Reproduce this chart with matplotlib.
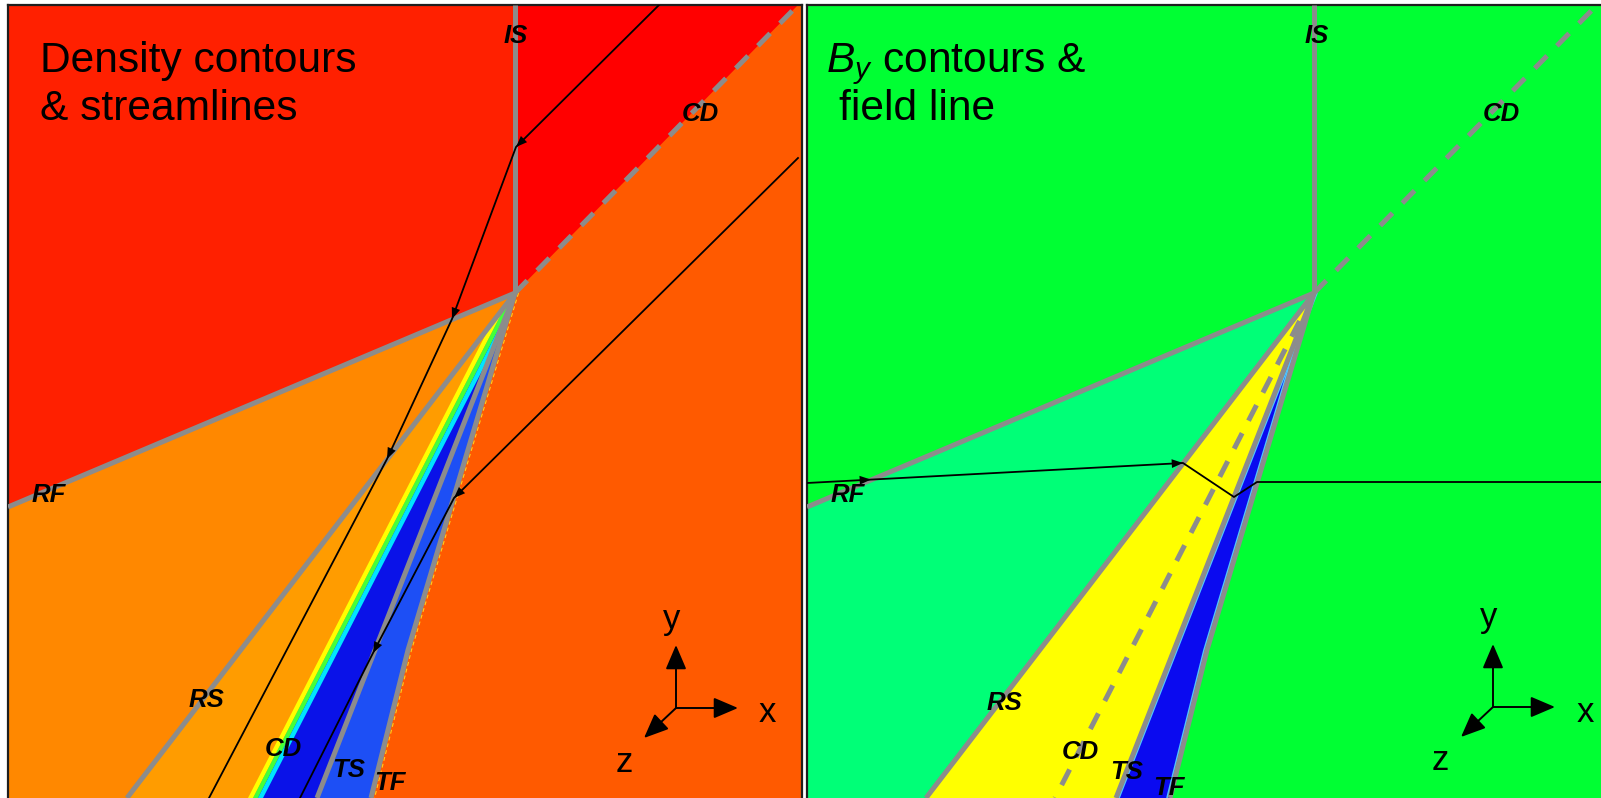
import matplotlib
matplotlib.use("Agg")
import matplotlib.pyplot as plt
from matplotlib.patches import Polygon, FancyArrowPatch

plt.rcParams['font.family'] = ['Liberation Sans', 'DejaVu Sans']
plt.rcParams['mathtext.fontset'] = 'custom'
plt.rcParams['mathtext.rm'] = 'Liberation Sans'
plt.rcParams['mathtext.it'] = 'Liberation Sans:italic'

# ---- panel frame (pixel-like units, x to the right, y downwards) ----
PANEL_W, PANEL_H = 794, 793

# ---- wave fronts: all leave the triple point ----
apex = (507, 288)
is_end = (507, 0)
cd_up_end = (790, 0)
rf_end = (0, 502)
rs_end = (119, 793)
cd_end = (248, 793)
ts_end = (309, 793)
tf_path = [(507, 288), (400, 645), (363, 793)]

# smeared contact layer in the density plot (x offsets from the CD line)
cd_band_offsets = [-8, -3, 2, 7]
cd_band_colors = ['#ffff00', '#44ff3a', '#00e4ff']

# ---- density panel: streamlines ----
stream_a = [(651, 0), (508, 142), (444, 314), (379, 454), (201, 793)]
stream_b = [(790, 153), (446, 493), (365, 648), (292, 793)]
# arrowheads: (segment index, fraction along segment)
stream_a_arrows = [(0, 1.0), (1, 1.0), (2, 1.0)]
stream_b_arrows = [(0, 1.0), (1, 1.0)]

# ---- By panel: field line ----
field_line = [(0, 478), (376, 458), (427, 492), (450, 477), (794, 477)]
field_arrows = [(0, 0.17), (0, 1.0)]

# ---- region colours ----
dens_colors = {
    'right': '#ff5a00', 'upper_left': '#ff2000', 'is_cd': '#ff0000',
    'rf_rs': '#ff8800', 'rs_cd': '#ff9c00', 'cd_ts': '#0a12e8',
    'ts_tf': '#1d4ff5',
}
by_colors = {
    'bg': '#00ff33', 'rf_rs': '#00ff77', 'rs_ts': '#ffff00', 'ts_tf': '#0a0af0',
}
FRONT_GREY = '#8c8c8c'

# ---- labels ----
dens_labels = [('IS', 508, 31), ('CD', 692, 109), ('RF', 41, 490), ('RS', 198, 695),
               ('CD', 275, 744), ('TS', 341, 765), ('TF', 382, 778)]
by_labels = [('IS', 510, 31), ('CD', 694, 109), ('RF', 41, 490), ('RS', 197, 698),
             ('CD', 273, 747), ('TS', 320, 767), ('TF', 362, 783)]

dens_title = ['Density contours', '& streamlines']
by_title = ['$B_y$ contours &', 'field line']

# coordinate triad: origin, tips, label positions
triad_dens = {'o': (668, 703), 'x': (730, 703), 'y': (668, 640), 'z': (636, 733),
              'lx': (759, 708), 'ly': (664, 615), 'lz': (616, 757)}
triad_by = {'o': (686, 702), 'x': (748, 702), 'y': (686, 639), 'z': (654, 732),
            'lx': (778, 707), 'ly': (682, 612), 'lz': (633, 756)}


def poly(ax, pts, color, z=1, **kw):
    p = Polygon(pts, closed=True, facecolor=color, edgecolor='none', zorder=z, **kw)
    ax.add_patch(p)
    return p


def front(ax, pts, dashed=False, color=FRONT_GREY, lw=3.6, z=4):
    xs = [p[0] for p in pts]
    ys = [p[1] for p in pts]
    ls = (0, (3.5, 2.8)) if dashed else '-'
    ax.plot(xs, ys, color=color, lw=lw, ls=ls, solid_capstyle='butt',
            dash_capstyle='butt', zorder=z)


def along(pts, seg, frac):
    (x0, y0), (x1, y1) = pts[seg], pts[seg + 1]
    return x0 + (x1 - x0) * frac, y0 + (y1 - y0) * frac, x1 - x0, y1 - y0


def flow_line(ax, pts, arrows):
    ax.plot([p[0] for p in pts], [p[1] for p in pts], color='black', lw=1.3, zorder=6)
    for seg, frac in arrows:
        x, y, dx, dy = along(pts, seg, frac)
        n = (dx * dx + dy * dy) ** 0.5
        back = 10.0
        a = FancyArrowPatch((x - dx / n * back, y - dy / n * back), (x, y),
                            arrowstyle='-|>,head_length=0.9,head_width=0.35',
                            mutation_scale=9, color='black', lw=0,
                            shrinkA=0, shrinkB=0, zorder=7)
        ax.add_patch(a)


def triad(ax, t):
    for k in ('x', 'y', 'z'):
        a = FancyArrowPatch(t['o'], t[k], arrowstyle='-|>,head_length=0.75,head_width=0.32',
                            mutation_scale=20, color='black', lw=1.4,
                            shrinkA=0, shrinkB=0, zorder=8)
        ax.add_patch(a)
    for k in ('x', 'y', 'z'):
        x, y = t['l' + k]
        ax.text(x, y, k, fontsize=25, ha='center', va='center', zorder=9)


def labels(ax, items):
    for s, x, y in items:
        ax.text(x, y, s, fontsize=18.5, fontweight='bold', style='italic',
                ha='center', va='center', zorder=9)


def title(ax, lines, x0):
    ax.text(x0[0], 67, lines[0], fontsize=30.6, ha='left', va='baseline', zorder=9)
    ax.text(x0[1], 115, lines[1], fontsize=30.6, ha='left', va='baseline', zorder=9)


def setup(ax, facecolor, right_spine):
    ax.set_xlim(0, PANEL_W)
    ax.set_ylim(PANEL_H, 0)
    ax.set_facecolor(facecolor)
    ax.set_xticks([])
    ax.set_yticks([])
    for side, sp in ax.spines.items():
        sp.set_color('#1e1e1e')
        sp.set_linewidth(1.6)
    ax.spines['bottom'].set_visible(False)
    ax.spines['right'].set_visible(right_spine)


FW, FH = 1601, 798
fig = plt.figure(figsize=(FW / 100, FH / 100), dpi=100, facecolor='white')
ax_d = fig.add_axes([8 / FW, 0, PANEL_W / FW, PANEL_H / FH])
ax_b = fig.add_axes([807 / FW, 0, PANEL_W / FW, PANEL_H / FH])

# ================= density panel =================
setup(ax_d, dens_colors['right'], True)
poly(ax_d, [(0, 0), is_end, apex, rf_end], dens_colors['upper_left'])
poly(ax_d, [is_end, cd_up_end, apex], dens_colors['is_cd'])
poly(ax_d, [rf_end, apex, rs_end, (0, PANEL_H)], dens_colors['rf_rs'])
poly(ax_d, [apex, rs_end, cd_end], dens_colors['rs_cd'])
poly(ax_d, [apex, cd_end, ts_end], dens_colors['cd_ts'])
poly(ax_d, [apex, ts_end] + tf_path[::-1][:-1], dens_colors['ts_tf'])

# smeared contact layer, kept inside the RS..TS wedge
wedge = Polygon([apex, rs_end, ts_end], closed=True, transform=ax_d.transData)
for k, c in enumerate(cd_band_colors):
    o0, o1 = cd_band_offsets[k], cd_band_offsets[k + 1]
    band = poly(ax_d, [(apex[0] + o0, apex[1]), (apex[0] + o1, apex[1]),
                       (cd_end[0] + o1, cd_end[1]), (cd_end[0] + o0, cd_end[1])], c, z=2)
    band.set_clip_path(wedge)

front(ax_d, [apex, is_end])
front(ax_d, [apex, cd_up_end], dashed=True)
front(ax_d, [apex, rf_end])
front(ax_d, [apex, rs_end])
front(ax_d, [apex, ts_end])
front(ax_d, tf_path)
front(ax_d, [(x + 3.5, y) for x, y in tf_path], dashed=True, color='#ffd21a', lw=0.8, z=3)

flow_line(ax_d, stream_a, stream_a_arrows)
flow_line(ax_d, stream_b, stream_b_arrows)
labels(ax_d, dens_labels)
title(ax_d, dens_title, (32, 32))
triad(ax_d, triad_dens)

# ================= By panel =================
setup(ax_b, by_colors['bg'], False)
poly(ax_b, [rf_end, apex, rs_end, (0, PANEL_H)], by_colors['rf_rs'])
poly(ax_b, [apex, rs_end, ts_end], by_colors['rs_ts'])
poly(ax_b, [apex, ts_end] + tf_path[::-1][:-1], by_colors['ts_tf'])

front(ax_b, [(x + 3, y) for x, y in [apex, ts_end]], color='#4fc8ff', lw=1.2, z=3)
front(ax_b, [(x - 3, y) for x, y in tf_path], color='#4fc8ff', lw=1.2, z=3)
front(ax_b, [apex, is_end])
front(ax_b, [apex, cd_up_end], dashed=True)
front(ax_b, [apex, rf_end])
front(ax_b, [apex, rs_end])
front(ax_b, [apex, cd_end], dashed=True)
front(ax_b, [apex, ts_end])
front(ax_b, tf_path)

flow_line(ax_b, field_line, field_arrows)
labels(ax_b, by_labels)
title(ax_b, by_title, (19, 32))
triad(ax_b, triad_by)

fig.savefig('out.png', dpi=100, facecolor='white')
